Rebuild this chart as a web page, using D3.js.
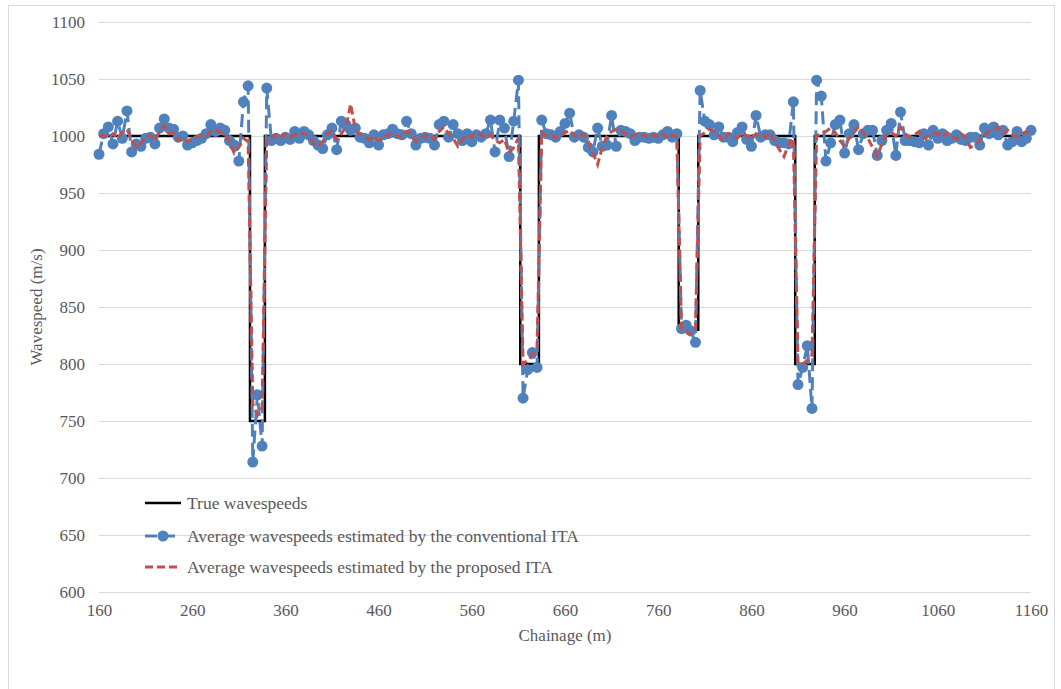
<!DOCTYPE html>
<html>
<head>
<meta charset="utf-8">
<script src="https://cdn.jsdelivr.net/npm/d3@7"></script>
<style>
  body { margin: 0; background: #fff; }
  svg, svg text { font-family: "Liberation Serif", "Times New Roman", Times, "DejaVu Serif", serif !important; }
  svg text { fill: #595959; }
</style>
</head>
<body>
<svg id="chart" width="1061" height="689"></svg>
<script>
// chainage (m), every 5 m
const chainage = [
  160, 165, 170, 175, 180, 185, 190, 195, 200, 205,
  210, 215, 220, 225, 230, 235, 240, 245, 250, 255,
  260, 265, 270, 275, 280, 285, 290, 295, 300, 305,
  310, 315, 320, 325, 330, 335, 340, 345, 350, 355,
  360, 365, 370, 375, 380, 385, 390, 395, 400, 405,
  410, 415, 420, 425, 430, 435, 440, 445, 450, 455,
  460, 465, 470, 475, 480, 485, 490, 495, 500, 505,
  510, 515, 520, 525, 530, 535, 540, 545, 550, 555,
  560, 565, 570, 575, 580, 585, 590, 595, 600, 605,
  610, 615, 620, 625, 630, 635, 640, 645, 650, 655,
  660, 665, 670, 675, 680, 685, 690, 695, 700, 705,
  710, 715, 720, 725, 730, 735, 740, 745, 750, 755,
  760, 765, 770, 775, 780, 785, 790, 795, 800, 805,
  810, 815, 820, 825, 830, 835, 840, 845, 850, 855,
  860, 865, 870, 875, 880, 885, 890, 895, 900, 905,
  910, 915, 920, 925, 930, 935, 940, 945, 950, 955,
  960, 965, 970, 975, 980, 985, 990, 995, 1000, 1005,
  1010, 1015, 1020, 1025, 1030, 1035, 1040, 1045, 1050, 1055,
  1060, 1065, 1070, 1075, 1080, 1085, 1090, 1095, 1100, 1105,
  1110, 1115, 1120, 1125, 1130, 1135, 1140, 1145, 1150, 1155,
  1160
];

// average wavespeeds, conventional ITA (m/s)
const conventional = [
  984, 1002, 1008, 993, 1013, 998, 1022, 986, 993, 991,
  998, 999, 993, 1007, 1015, 1007, 1006, 999, 1000, 992,
  994, 996, 998, 1002, 1010, 1004, 1007, 1005, 996, 992,
  978, 1030, 1044, 714, 773, 728, 1042, 996, 998, 996,
  999, 997, 1004, 998, 1004, 1001, 996, 992, 989, 1001,
  1007, 988, 1013, 1010, 1005, 1007, 999, 998, 994, 1001,
  992, 1001, 1002, 1006, 1002, 1001, 1013, 1002, 992, 998,
  999, 998, 992, 1010, 1013, 999, 1010, 1002, 996, 1002,
  995, 1001, 999, 1002, 1014, 986, 1014, 1007, 982, 1013,
  1049, 770, 795, 810, 797, 1014, 1002, 1001, 999, 1004,
  1011, 1020, 999, 1001, 999, 990, 986, 1007, 991, 992,
  1018, 991, 1005, 1004, 1002, 996, 999, 999, 998, 999,
  998, 1001, 1004, 999, 1002, 831, 834, 829, 819, 1040,
  1013, 1010, 1001, 1008, 999, 999, 995, 1003, 1008, 997,
  991, 1018, 999, 1001, 1001, 996, 994, 994, 993, 1030,
  782, 797, 816, 761, 1049, 1035, 978, 994, 1010, 1014,
  985, 1002, 1010, 988, 1002, 1005, 1005, 983, 996, 1005,
  1011, 983, 1021, 996, 996, 995, 994, 1002, 992, 1005,
  998, 1002, 996, 998, 1001, 997, 996, 999, 999, 992,
  1007, 1002, 1008, 1001, 1005, 992, 995, 1004, 995, 998,
  1005
];

// average wavespeeds, proposed ITA (m/s)
const proposed = [
  1000, 1001, 999, 1002, 998, 1003, 1006, 997, 990, 993,
  999, 1001, 996, 1004, 1009, 1002, 1003, 996, 999, 995,
  997, 999, 1001, 1000, 1004, 1006, 1003, 1002, 995, 985,
  990, 998, 995, 765, 755, 762, 998, 999, 1001, 998,
  1002, 999, 1001, 1003, 1002, 1000, 994, 991, 995, 1002,
  1005, 997, 1002, 1008, 1028, 1006, 1001, 999, 997, 1000,
  996, 999, 1001, 1003, 1000, 999, 1004, 1002, 995, 999,
  1000, 1001, 997, 1004, 1008, 1002, 998, 991, 997, 1001,
  999, 1003, 1001, 998, 1001, 996, 994, 997, 985, 990,
  998, 800, 803, 808, 814, 1003, 1000, 1002, 998, 1001,
  1003, 1005, 1000, 999, 1002, 995, 985, 975, 990, 1000,
  1004, 1006, 1005, 1002, 999, 1001, 1003, 1000, 998, 1001,
  999, 1002, 998, 1001, 999, 830, 828, 826, 832, 1000,
  1003, 1006, 1004, 1000, 996, 1002, 1001, 998, 1003, 1000,
  997, 1002, 1001, 999, 1003, 996, 988, 982, 993, 998,
  800, 800, 803, 808, 1000, 1002, 1004, 1007, 1003, 996,
  991, 998, 1003, 1008, 1003, 998, 990, 982, 993, 1001,
  1003, 1000, 1008, 1002, 999, 1001, 1004, 998, 1000, 1003,
  1002, 999, 1003, 1000, 997, 1002, 999, 990, 992, 996,
  1001, 1004, 1006, 1008, 1002, 1005, 1001, 999, 1002, 1004,
  1000
];

// true wavespeed profile (step corners)
const trueChainage = [160, 322, 322, 338, 338, 612, 612, 632, 632, 782, 782, 803, 803, 907, 907, 928, 928, 1160];
const trueSpeed    = [1000, 1000, 750, 750, 1000, 1000, 800, 800, 1000, 1000, 830, 830, 1000, 1000, 800, 800, 1000, 1000];

const xTicks = [160, 260, 360, 460, 560, 660, 760, 860, 960, 1060, 1160];
const yTicks = [600, 650, 700, 750, 800, 850, 900, 950, 1000, 1050, 1100];

const legendLabels = [
  "True wavespeeds",
  "Average wavespeeds estimated by the conventional ITA",
  "Average wavespeeds estimated by the proposed ITA"
];

const blue = "#4f81bd";
const red = "#c0504d";
const serif = '"Liberation Serif", "Times New Roman", Times, serif';

const svg = d3.select("#chart").attr("font-family", serif);

// chart frame
svg.append("rect")
  .attr("x", 8.5).attr("y", 5.5)
  .attr("width", 1046).attr("height", 700)
  .attr("fill", "none")
  .attr("stroke", "#d9d9d9");

const x = d3.scaleLinear().domain([160, 1160]).range([99, 1031]);
const y = d3.scaleLinear().domain([600, 1100]).range([592, 22]);

// gridlines
svg.append("g")
  .selectAll("line")
  .data(yTicks)
  .enter()
  .append("line")
  .attr("x1", x(160)).attr("x2", x(1160))
  .attr("y1", (d) => y(d) + 0.5).attr("y2", (d) => y(d) + 0.5)
  .attr("stroke", "#d9d9d9")
  .attr("stroke-width", 1);

// y axis labels
const yAxis = svg.append("g")
  .attr("transform", `translate(${x(160) - 14},0)`)
  .call(d3.axisLeft(y).tickValues(yTicks).tickFormat(d3.format("d")).tickSize(0).tickPadding(0))
  .attr("font-family", serif)
  .attr("font-size", 17);
yAxis.select(".domain").remove();
yAxis.selectAll("text")
  .attr("dy", "0.32em")
  .attr("fill", "#595959");

// x axis labels
const xAxis = svg.append("g")
  .attr("transform", `translate(0,${y(600) + 12})`)
  .call(d3.axisBottom(x).tickValues(xTicks).tickFormat(d3.format("d")).tickSize(0).tickPadding(0))
  .attr("font-family", serif)
  .attr("font-size", 17);
xAxis.select(".domain").remove();
xAxis.selectAll("text")
  .attr("dy", "0.71em")
  .attr("fill", "#595959");

// axis titles
svg.append("text")
  .attr("x", (x(160) + x(1160)) / 2)
  .attr("y", 641)
  .attr("text-anchor", "middle")
  .attr("font-size", 17)
  .text("Chainage (m)");

svg.append("text")
  .attr("transform", `translate(42,${(y(600) + y(1100)) / 2}) rotate(-90)`)
  .attr("text-anchor", "middle")
  .attr("font-size", 17)
  .text("Wavespeed (m/s)");

// series
const trueData = trueChainage.map((c, i) => [c, trueSpeed[i]]);
const convData = chainage.map((c, i) => [c, conventional[i]]);
const propData = chainage.map((c, i) => [c, proposed[i]]);

const line = d3.line().x((d) => x(d[0])).y((d) => y(d[1]));

svg.append("path")
  .datum(trueData)
  .attr("d", line)
  .attr("fill", "none")
  .attr("stroke", "#000")
  .attr("stroke-width", 2.5);

svg.append("path")
  .datum(convData)
  .attr("d", line)
  .attr("fill", "none")
  .attr("stroke", blue)
  .attr("stroke-width", 3)
  .attr("stroke-dasharray", "13,6");

svg.append("g")
  .selectAll("circle")
  .data(convData)
  .enter()
  .append("circle")
  .attr("cx", (d) => x(d[0]))
  .attr("cy", (d) => y(d[1]))
  .attr("r", 5.5)
  .attr("fill", blue);

svg.append("path")
  .datum(propData)
  .attr("d", line)
  .attr("fill", "none")
  .attr("stroke", red)
  .attr("stroke-width", 3)
  .attr("stroke-dasharray", "8,4");

// legend
const legendY = [503, 536, 567];
const legend = svg.append("g");
const lx0 = 145, lx1 = 181;

legend.append("line")
  .attr("x1", lx0).attr("x2", lx1)
  .attr("y1", legendY[0]).attr("y2", legendY[0])
  .attr("stroke", "#000").attr("stroke-width", 2.5);

legend.append("line")
  .attr("x1", lx0).attr("x2", lx1)
  .attr("y1", legendY[1]).attr("y2", legendY[1])
  .attr("stroke", blue).attr("stroke-width", 3)
  .attr("stroke-dasharray", "12,6");
legend.append("circle")
  .attr("cx", (lx0 + lx1) / 2).attr("cy", legendY[1])
  .attr("r", 5.5).attr("fill", blue);

legend.append("line")
  .attr("x1", lx0).attr("x2", lx1)
  .attr("y1", legendY[2]).attr("y2", legendY[2])
  .attr("stroke", red).attr("stroke-width", 3)
  .attr("stroke-dasharray", "8,4");

legend.selectAll("text")
  .data(legendLabels)
  .enter()
  .append("text")
  .attr("x", 187)
  .attr("y", (d, i) => legendY[i])
  .attr("dy", "0.35em")
  .attr("font-size", 17.5)
  .text((d) => d);
</script>
</body>
</html>
